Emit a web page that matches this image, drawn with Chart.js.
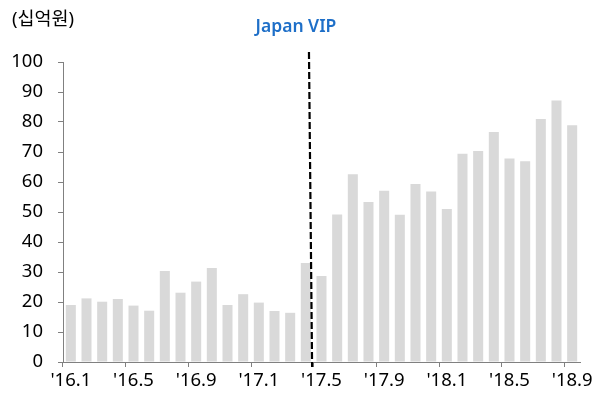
<!DOCTYPE html>
<html>
<head>
<meta charset="utf-8">
<script src="https://cdn.jsdelivr.net/npm/chart.js@4"></script>
<style>
  html, body { margin: 0; padding: 0; background: #fff; }
  #chart { display: block; }
</style>
</head>
<body>
<canvas id="chart" width="603" height="393"></canvas>
<script>
// Monthly values, '16.1 through '18.9 (unit: 십억원)
const months = [
  "'16.1", "'16.2", "'16.3", "'16.4", "'16.5", "'16.6", "'16.7", "'16.8", "'16.9", "'16.10", "'16.11", "'16.12",
  "'17.1", "'17.2", "'17.3", "'17.4", "'17.5", "'17.6", "'17.7", "'17.8", "'17.9", "'17.10", "'17.11", "'17.12",
  "'18.1", "'18.2", "'18.3", "'18.4", "'18.5", "'18.6", "'18.7", "'18.8", "'18.9"
];
const sales = [
  19.0, 21.2, 20.1, 21.0, 18.8, 17.1, 30.3, 23.1, 26.8, 31.3, 19.0, 22.6,
  19.8, 17.0, 16.4, 33.0, 28.7, 49.2, 62.6, 53.3, 57.1, 49.1, 59.3, 56.8,
  51.0, 69.4, 70.3, 76.7, 67.8, 66.9, 81.0, 87.2, 78.9
];
const yTicks = [0, 10, 20, 30, 40, 50, 60, 70, 80, 90, 100];

// Event marker sits between '17.4 and '17.5
const markerLabel = 'Japan VIP';
const markerAt = [15.2, 15.4]; // top, bottom (category index units)
const unitLabel = '(십억원)';

const axisGrey = '#808080';
const fontFamily = "'Noto Sans', 'Noto Sans CJK KR', sans-serif";
const labelSize = 18.5;

const markerPlugin = {
  id: 'marker',
  afterDatasetsDraw(chart) {
    const ctx = chart.ctx;
    const x = chart.scales.x;
    const xTop = x.getPixelForValue(markerAt[0]);
    const xBottom = x.getPixelForValue(markerAt[1]);
    ctx.save();
    ctx.strokeStyle = '#000';
    ctx.lineWidth = 2.2;
    ctx.setLineDash([7, 3]);
    ctx.beginPath();
    ctx.moveTo(xTop, 52);
    ctx.lineTo(xBottom, 367);
    ctx.stroke();
    ctx.setLineDash([]);

    ctx.fillStyle = '#1e6fc8';
    ctx.font = '600 17.5px ' + fontFamily;
    ctx.textAlign = 'center';
    ctx.textBaseline = 'middle';
    ctx.fillText(markerLabel, xTop - 13, 27);

    ctx.fillStyle = '#000';
    ctx.font = labelSize + 'px ' + fontFamily;
    ctx.textAlign = 'left';
    ctx.fillText(unitLabel, 12, 20);
    ctx.restore();
  }
};

new Chart(document.getElementById('chart'), {
  type: 'bar',
  data: {
    labels: months,
    datasets: [{
      data: sales,
      backgroundColor: '#d9d9d9',
      borderWidth: 0,
      barPercentage: 0.64,
      categoryPercentage: 1.0
    }]
  },
  options: {
    responsive: false,
    animation: false,
    devicePixelRatio: 1,
    layout: { padding: { left: 0, right: 23, top: 62, bottom: 0 } },
    plugins: {
      legend: { display: false },
      tooltip: { enabled: false }
    },
    scales: {
      x: {
        offset: true,
        afterFit(scale) { scale.height = 31; },
        border: { color: axisGrey, width: 1 },
        grid: {
          offset: true,
          drawOnChartArea: false,
          drawTicks: true,
          tickLength: 5,
          color: (c) => (c.index % 4 === 0 ? axisGrey : 'rgba(0,0,0,0)')
        },
        ticks: {
          autoSkip: false,
          maxRotation: 0,
          padding: 3,
          color: '#000',
          font: { family: fontFamily, size: labelSize },
          callback: (v, i) => (i % 4 === 0 ? months[i] : '')
        }
      },
      y: {
        min: yTicks[0],
        max: yTicks[yTicks.length - 1],
        afterFit(scale) { scale.width = 63; },
        afterBuildTicks(scale) { scale.ticks = yTicks.map(v => ({ value: v })); },
        border: { color: axisGrey, width: 1 },
        grid: {
          drawOnChartArea: false,
          drawTicks: true,
          tickLength: 5,
          color: axisGrey
        },
        ticks: {
          padding: 15,
          color: '#000',
          font: { family: fontFamily, size: labelSize }
        }
      }
    }
  },
  plugins: [markerPlugin]
});
</script>
</body>
</html>
